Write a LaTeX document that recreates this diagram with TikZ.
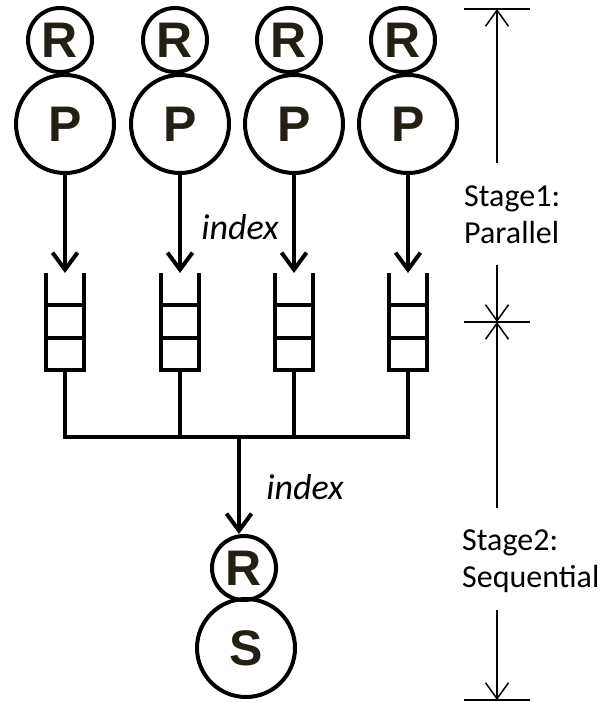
\documentclass[tikz,border=0pt]{standalone}
\usepackage{fontspec}
\setmainfont{Carlito}
\newfontfamily\arialfont{Liberation Sans}
\usepackage{xcolor}
\usetikzlibrary{arrows.meta,positioning}

\definecolor{letter}{HTML}{231F14}

\tikzset{
  wire/.style={line width=4pt},
  flow/.style={line width=4pt, -{Straight Barb[length=17pt,width=25pt]}},
  dimline/.style={line width=1.5pt, -{Straight Barb[length=16pt,width=23pt]}},
  bignode/.style={circle, draw, line width=4pt, inner sep=0pt, minimum size=98pt,
    text=letter, font=\arialfont\bfseries\fontsize{50}{54}\selectfont},
  smallnode/.style={bignode, minimum size=64pt},
  queue/.style={rectangle, inner sep=0pt, minimum width=37pt, minimum height=97pt, anchor=north},
  lbl/.style={font=\fontsize{32}{37}\selectfont, align=left, inner sep=0pt},
  idxlbl/.style={lbl, font=\fontsize{36}{40}\selectfont\itshape}
}

\begin{document}
\begin{tikzpicture}[x=1pt, y=-1pt]
        \useasboundingbox (0,0) rectangle (605,703);

        % 1. PROCESSORS WITH THEIR R RINGS, AND THE QUEUES BELOW
        \foreach \i/\x in {1/65, 2/180, 3/294, 4/408} {
            \node[bignode] (p\i) at (\x, 124) {P};
            \node[smallnode] (r\i) at (\x-5, 40) {R};
            \node[queue] (q\i) at (\x, 273) {};
            \draw[flow] (p\i.south) -- (q\i.north);
            % open-topped queue with two cell walls
            \draw[wire] (q\i.north west) |- (q\i.south east) -- (q\i.north east);
            \draw[wire] ([yshift=-32pt]q\i.north west) -- ([yshift=-32pt]q\i.north east);
            \draw[wire] ([yshift=-65pt]q\i.north west) -- ([yshift=-65pt]q\i.north east);
        }
        \node[idxlbl] (idx1) at (240, 227) {index};

        % 2. MERGING BUS
        \coordinate (bus) at (239, 437);
        \draw[wire] (q1.south) |- (q4.south |- bus) -- (q4.south);
        \draw[wire] (q2.south) -- (q2.south |- bus);
        \draw[wire] (q3.south) -- (q3.south |- bus);

        % 3. SEQUENTIAL STAGE
        \node[smallnode] (r5) at (244, 568) {R};
        \node[bignode] (s) at (246, 648) {S};
        \draw[flow] (bus) -- (bus |- r5.north);
        \node[idxlbl] (idx2) at (305, 487) {index};

        % 4. STAGE DIMENSIONS (right side)
        \coordinate (top) at (497, 9);
        \coordinate (mid) at (497, 322);
        \coordinate (bot) at (497, 700);
        \foreach \c in {top, mid, bot}
            \draw[line width=1.5pt] ([xshift=-33pt]\c) -- ([xshift=33pt]\c);

        \node[lbl, anchor=west] (stage1) at (464, 215) {Stage1:\\Parallel};
        \node[lbl, anchor=west] (stage2) at (462, 561) {Stage2:\\Sequential};

        \coordinate (s1up) at (497, 163);
        \coordinate (s1dn) at (497, 265);
        \coordinate (s2up) at (497, 508);
        \coordinate (s2dn) at (497, 610);
        \draw[dimline] (s1up) -- (top);
        \draw[dimline] (s1dn) -- (mid);
        \draw[dimline] (s2up) -- (mid);
        \draw[dimline] (s2dn) -- (bot);

\end{tikzpicture}
\end{document}
